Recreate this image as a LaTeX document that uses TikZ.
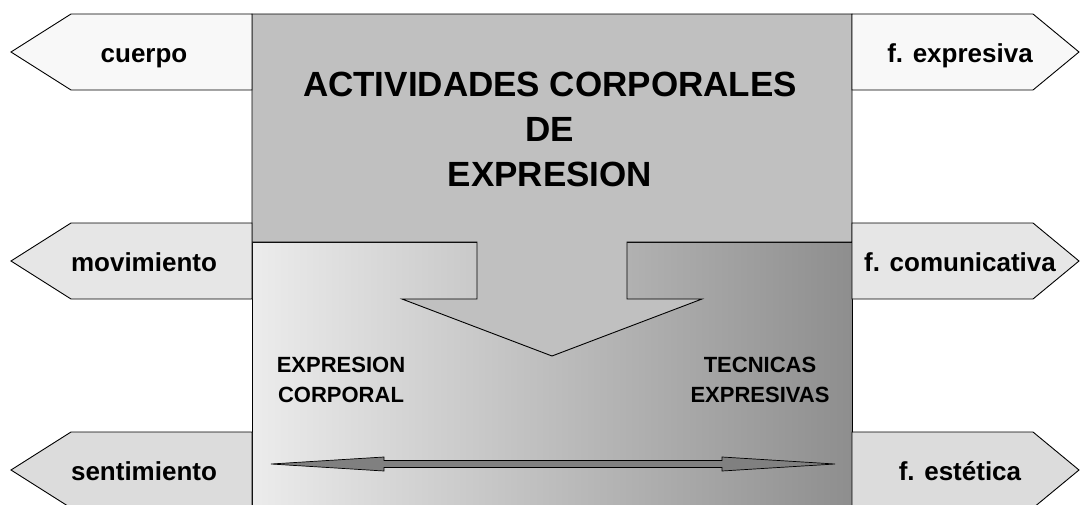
\documentclass[tikz,border=0pt]{standalone}
\usepackage{fontspec}
\setmainfont{Liberation Sans}
\usetikzlibrary{positioning}
\definecolor{lowleft}{HTML}{ECECEC}
\definecolor{lowright}{HTML}{8E8E8E}
\definecolor{topgray}{HTML}{C0C0C0}
\definecolor{shaftgray}{HTML}{808080}
\definecolor{fillA}{HTML}{F8F8F8}
\definecolor{fillB}{HTML}{E6E6E6}
\definecolor{fillC}{HTML}{DCDCDC}

\begin{document}
\begin{tikzpicture}[x=1pt,y=-1pt,line width=0.9pt,
  sidetxt/.style={font=\fontsize{26}{30}\selectfont\bfseries,inner sep=0pt,anchor=base},
  subtxt/.style={font=\fontsize{22}{30}\selectfont\bfseries,align=center,inner sep=0pt,anchor=north},
  headtxt/.style={font=\fontsize{35}{45}\selectfont\bfseries,align=center,inner sep=0pt,anchor=north}]
  \clip (0,0) rectangle (1080,504);
  % lower part of the box
  \draw[left color=lowleft,right color=lowright] (252,242) rectangle (852,520);
  % upper part with the down arrow
  \draw[fill=topgray] (252,14) -- (852,14) -- (852,242) -- (627,242) -- (627,299)
    -- (702,299) -- (552,356) -- (402,299) -- (477,299) -- (477,242) -- (252,242) -- cycle;
  % side arrows
  \foreach \n/\yc/\col/\txt in {cuerpo/52/fillA/cuerpo,movim/261/fillB/movimiento,
      sentim/470/fillC/sentimiento} {
    \draw[fill=\col] (252,{\yc-38}) -- (71,{\yc-38}) -- (11,\yc) -- (71,{\yc+38})
      -- (252,{\yc+38}) -- cycle;
    \node[sidetxt] (\n) at (144,{\yc+10.5}) {\txt};
  }
  \foreach \n/\yc/\col/\txt in {fexp/52/fillA/f. expresiva,fcom/261/fillB/f. comunicativa,
      fest/470/fillC/f. estética} {
    \draw[fill=\col] (852,{\yc-38}) -- (1033,{\yc-38}) -- (1079,\yc) -- (1033,{\yc+38})
      -- (852,{\yc+38}) -- cycle;
    \node[sidetxt] (\n) at (960,{\yc+10.5}) {\txt};
  }
  % double arrow
  \draw[fill=shaftgray,line width=0.7pt] (271,464) -- (384,457) -- (384,460.5) -- (722,460.5)
    -- (722,457) -- (835,464) -- (722,471) -- (722,467.5) -- (384,467.5) -- (384,471) -- cycle;
  % texts
  \node[headtxt] (head) at (550,72) {ACTIVIDADES CORPORALES\\DE\\EXPRESION};
  \node[subtxt] (ecorp) at (341,357) {EXPRESION\\CORPORAL};
  \node[subtxt] (texp) at (760,357) {TECNICAS\\EXPRESIVAS};
\end{tikzpicture}
\end{document}
